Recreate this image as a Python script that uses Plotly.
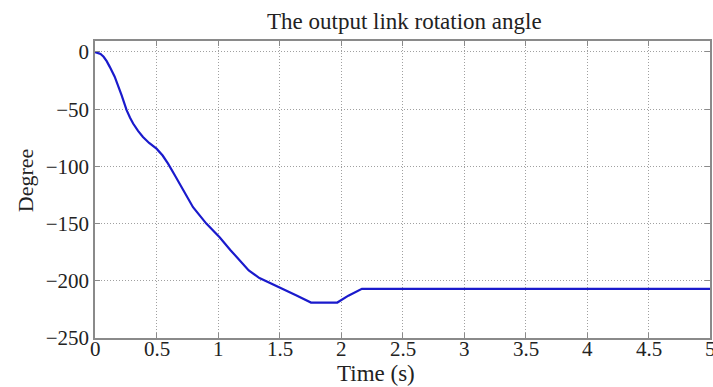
import plotly.graph_objects as go

time_s = [0, 0.02, 0.045, 0.07, 0.095, 0.12, 0.16, 0.216, 0.257, 0.285, 0.31, 0.35, 0.39, 0.44,
          0.5, 0.55, 0.594, 0.65, 0.716, 0.797, 0.905, 1.013, 1.1, 1.175, 1.25, 1.337, 1.42,
          1.5, 1.63, 1.756, 1.97, 2.06, 2.17, 5.0]
angle_deg = [0, -0.5, -1.8, -4.2, -8, -13, -21.6, -37.7, -50.9, -57.5, -62.5, -69, -74.3, -79.5,
             -84.5, -90.5, -97.6, -108, -121, -135.7, -150, -162, -173, -182.5, -191, -197.6, -202,
             -206, -212.5, -219, -219, -213, -207, -207]

x_ticks = [0, 0.5, 1, 1.5, 2, 2.5, 3, 3.5, 4, 4.5, 5]
x_tick_labels = ["0", "0.5", "1", "1.5", "2", "2.5", "3", "3.5", "4", "4.5", "5"]
y_ticks = [0, -50, -100, -150, -200, -250]
y_tick_labels = ["0", "\u221250", "\u2212100", "\u2212150", "\u2212200", "\u2212250"]

FONT = "Liberation Serif"
TXT = "#222222"

fig = go.Figure()
fig.add_trace(go.Scatter(x=time_s, y=angle_deg, mode="lines",
                         line=dict(color="#1a1acc", width=2.2), showlegend=False))

axis_common = dict(
    showline=True, linecolor="#8a8a8a", linewidth=1.5, mirror="allticks",
    ticks="inside", ticklen=5, tickcolor="#8a8a8a",
    showgrid=True, gridcolor="#a0a0a0", griddash="1px,2px", gridwidth=1,
    zeroline=False, tickfont=dict(family=FONT, size=21, color=TXT),
)

fig.update_xaxes(range=[0, 5], tickvals=x_ticks, ticktext=x_tick_labels,
                 showticklabels=False, **axis_common)
fig.update_yaxes(range=[-250, 9.6], tickvals=y_ticks, ticktext=y_tick_labels, **axis_common)

pw = 713 - 95 - 1
ph = 387 - 41 - 49


def px_to_paper(xp, yp):
    return (xp - 95) / pw, (387 - 49 - yp) / ph


annotations = []
# x tick labels placed via the x axis scale (data coords), just below the axis
for v, lab in zip(x_ticks, x_tick_labels):
    annotations.append(dict(text=lab, x=v, xref="x", y=px_to_paper(0, 335)[1], yref="paper",
                            xanchor="center", yanchor="top", showarrow=False,
                            font=dict(family=FONT, size=21, color=TXT)))

tx, ty = px_to_paper(406, 21)
annotations.append(dict(text="The output link rotation angle", x=tx, y=ty, xref="paper", yref="paper",
                        xanchor="center", yanchor="middle", showarrow=False,
                        font=dict(family=FONT, size=23, color=TXT)))
tx, ty = px_to_paper(377, 374)
annotations.append(dict(text="Time (s)", x=tx, y=ty, xref="paper", yref="paper",
                        xanchor="center", yanchor="middle", showarrow=False,
                        font=dict(family=FONT, size=23, color=TXT)))
tx, ty = px_to_paper(25, 180)
annotations.append(dict(text="Degree", x=tx, y=ty, xref="paper", yref="paper",
                        xanchor="center", yanchor="middle", showarrow=False, textangle=-90,
                        font=dict(family=FONT, size=22, color=TXT)))

fig.update_layout(
    width=713, height=387,
    margin=dict(l=95, r=1, t=41, b=49),
    paper_bgcolor="white", plot_bgcolor="white",
    annotations=annotations,
)

fig.write_html("out.html")
